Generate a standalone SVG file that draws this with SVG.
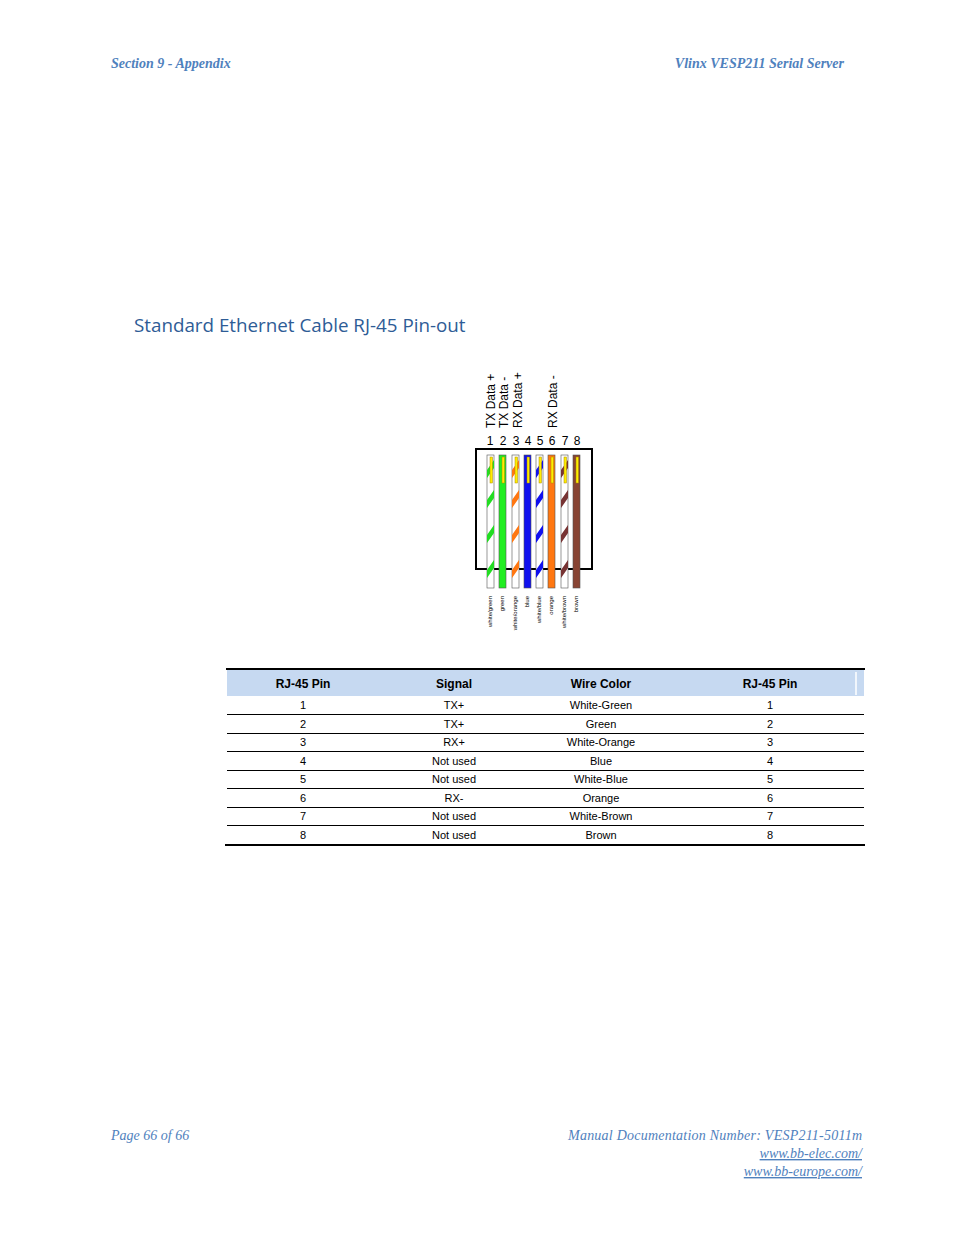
<svg xmlns="http://www.w3.org/2000/svg" width="954" height="1235" viewBox="0 0 954 1235">
<style>
.hdr{font-family:"Liberation Serif",serif;font-style:italic;font-weight:bold;font-size:14px;fill:#4f81bd}
.ft{font-family:"Liberation Serif",serif;font-style:italic;font-size:14px;fill:#4f81bd}
.t{font-family:"Liberation Sans",Arial,sans-serif;font-size:11px;fill:#000;text-anchor:middle}
.th{font-family:"Liberation Sans",Arial,sans-serif;font-size:12px;font-weight:bold;fill:#000;text-anchor:middle}
.lab{font-family:"Liberation Sans",Arial,sans-serif;font-size:12px;fill:#000}
.sm{font-family:"Liberation Sans",Arial,sans-serif;font-size:6px;fill:#000;text-anchor:end}
.w{stroke:#555;stroke-width:0.6}
</style>
<rect width="954" height="1235" fill="#fff"/>
<text class="hdr" x="111" y="68">Section 9 - Appendix</text>
<text class="hdr" x="844" y="68" text-anchor="end">Vlinx VESP211 Serial Server</text>
<text x="134" y="332" font-family="Open Sans,Liberation Sans,sans-serif" font-size="18.8" fill="#2e5c96">Standard Ethernet Cable RJ-45 Pin-out</text>
<g id="connector">
<g class="lab">
<text transform="translate(495,428) rotate(-90)">TX Data +</text>
<text transform="translate(508,428) rotate(-90)">TX Data -</text>
<text transform="translate(522,428) rotate(-90)">RX Data +</text>
<text transform="translate(557,428) rotate(-90)">RX Data -</text>
</g>
<g class="lab" text-anchor="middle" font-size="11">
<text x="490" y="445">1</text><text x="503" y="445">2</text><text x="516" y="445">3</text><text x="528" y="445">4</text><text x="540" y="445">5</text><text x="552" y="445">6</text><text x="565" y="445">7</text><text x="577" y="445">8</text>
</g>
<rect x="476" y="449" width="116" height="120" fill="#fff" stroke="#000" stroke-width="2"/>
<g id="wires">
<rect class="w" x="487" y="455" width="7" height="133" fill="#fff"/>
<path d="M487 500 l7 -10 v8 l-7 10z M487 535 l7 -10 v8 l-7 10z M487 570 l7 -10 v8 l-7 10z M487 470 l7 -10 v8 l-7 10z" fill="#22dd22"/>
<rect class="w" x="499" y="455" width="7" height="133" fill="#22ee22"/>
<rect class="w" x="512" y="455" width="7" height="133" fill="#fff"/>
<path d="M512 500 l7 -10 v8 l-7 10z M512 535 l7 -10 v8 l-7 10z M512 570 l7 -10 v8 l-7 10z M512 470 l7 -10 v8 l-7 10z" fill="#ff7711"/>
<rect class="w" x="524" y="455" width="7" height="133" fill="#1111ee"/>
<rect class="w" x="536" y="455" width="7" height="133" fill="#fff"/>
<path d="M536 500 l7 -10 v8 l-7 10z M536 535 l7 -10 v8 l-7 10z M536 570 l7 -10 v8 l-7 10z M536 470 l7 -10 v8 l-7 10z" fill="#1111ee"/>
<rect class="w" x="548" y="455" width="7" height="133" fill="#ff7711"/>
<rect class="w" x="561" y="455" width="7" height="133" fill="#fff"/>
<path d="M561 500 l7 -10 v8 l-7 10z M561 535 l7 -10 v8 l-7 10z M561 570 l7 -10 v8 l-7 10z M561 470 l7 -10 v8 l-7 10z" fill="#773333"/>
<rect class="w" x="573" y="455" width="7" height="133" fill="#884433"/>
<g fill="#ffee00" stroke="#aa8800" stroke-width="0.5">
<rect x="490" y="457" width="2.5" height="26"/><rect x="502" y="457" width="2.5" height="26"/><rect x="515" y="457" width="2.5" height="26"/><rect x="527" y="457" width="2.5" height="26"/><rect x="539" y="457" width="2.5" height="26"/><rect x="551" y="457" width="2.5" height="26"/><rect x="564" y="457" width="2.5" height="26"/><rect x="576" y="457" width="2.5" height="26"/>
</g>
</g>
<g class="sm">
<text transform="translate(492,596) rotate(-90)">white/green</text>
<text transform="translate(504,596) rotate(-90)">green</text>
<text transform="translate(517,596) rotate(-90)">white/orange</text>
<text transform="translate(529,596) rotate(-90)">blue</text>
<text transform="translate(541,596) rotate(-90)">white/blue</text>
<text transform="translate(553,596) rotate(-90)">orange</text>
<text transform="translate(566,596) rotate(-90)">white/brown</text>
<text transform="translate(578,596) rotate(-90)">brown</text>
</g>
</g>
<g id="table">
<rect x="227" y="669" width="637" height="27" fill="#c6d9f1"/>
<line x1="856" y1="672" x2="856" y2="695" stroke="#fff" stroke-width="1.5"/>
<line x1="226" y1="669" x2="865" y2="669" stroke="#000" stroke-width="2"/>
<g stroke="#000" stroke-width="1">
<line x1="227" y1="714.5" x2="864" y2="714.5"/><line x1="227" y1="733.5" x2="864" y2="733.5"/><line x1="227" y1="751.5" x2="864" y2="751.5"/><line x1="227" y1="770.5" x2="864" y2="770.5"/><line x1="227" y1="788.5" x2="864" y2="788.5"/><line x1="227" y1="807.5" x2="864" y2="807.5"/><line x1="227" y1="825.5" x2="864" y2="825.5"/>
</g>
<line x1="225" y1="845" x2="865" y2="845" stroke="#000" stroke-width="2"/>
<text class="th" x="303" y="688">RJ-45 Pin</text><text class="th" x="454" y="688">Signal</text><text class="th" x="601" y="688">Wire Color</text><text class="th" x="770" y="688">RJ-45 Pin</text>
<text class="t" x="303" y="709">1</text><text class="t" x="454" y="709">TX+</text><text class="t" x="601" y="709">White-Green</text><text class="t" x="770" y="709">1</text>
<text class="t" x="303" y="728">2</text><text class="t" x="454" y="728">TX+</text><text class="t" x="601" y="728">Green</text><text class="t" x="770" y="728">2</text>
<text class="t" x="303" y="746">3</text><text class="t" x="454" y="746">RX+</text><text class="t" x="601" y="746">White-Orange</text><text class="t" x="770" y="746">3</text>
<text class="t" x="303" y="765">4</text><text class="t" x="454" y="765">Not used</text><text class="t" x="601" y="765">Blue</text><text class="t" x="770" y="765">4</text>
<text class="t" x="303" y="783">5</text><text class="t" x="454" y="783">Not used</text><text class="t" x="601" y="783">White-Blue</text><text class="t" x="770" y="783">5</text>
<text class="t" x="303" y="802">6</text><text class="t" x="454" y="802">RX-</text><text class="t" x="601" y="802">Orange</text><text class="t" x="770" y="802">6</text>
<text class="t" x="303" y="820">7</text><text class="t" x="454" y="820">Not used</text><text class="t" x="601" y="820">White-Brown</text><text class="t" x="770" y="820">7</text>
<text class="t" x="303" y="839">8</text><text class="t" x="454" y="839">Not used</text><text class="t" x="601" y="839">Brown</text><text class="t" x="770" y="839">8</text>
</g>
<text class="ft" x="111" y="1140" font-style="normal">Page 66 of 66</text>
<text class="ft" x="862" y="1140" text-anchor="end" textLength="294">Manual Documentation Number: VESP211-5011m</text>
<text class="ft" x="862" y="1158" text-anchor="end" text-decoration="underline">www.bb-elec.com/</text>
<text class="ft" x="862" y="1176" text-anchor="end" text-decoration="underline">www.bb-europe.com/</text>
</svg>
